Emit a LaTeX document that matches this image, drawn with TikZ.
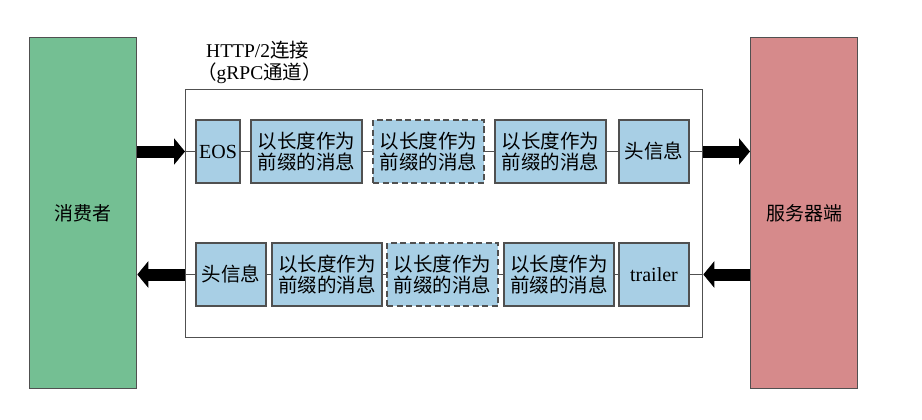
\documentclass[tikz,border=0pt]{standalone}
\usepackage{fontspec}
\setmainfont{Liberation Serif}
\newfontfamily\cjk{Noto Sans CJK SC}
\usetikzlibrary{arrows.meta}
\definecolor{cgreen}{HTML}{74BF93}
\definecolor{cred}{HTML}{D68A8B}
\definecolor{cblue}{HTML}{A8CFE5}
\definecolor{cborder}{HTML}{505050}
\begin{document}
\begin{tikzpicture}[x=1pt,y=-1pt,
  box/.style={draw=cborder, line width=1.3pt, fill=cblue, minimum height=63pt,
    inner sep=0pt, font=\fontsize{19.5}{21}\selectfont\cjk, align=center},
  dbox/.style={box, dash pattern=on 6pt off 3.5pt},
  latin/.style={font=\fontsize{20}{21}\selectfont},
  side/.style={draw=cborder, line width=1.3pt, minimum width=107pt, minimum height=351pt,
    inner sep=0pt, anchor=north west, font=\fontsize{19}{21}\selectfont\cjk},
  fat/.style={line width=12pt, -{Triangle[length=11pt,width=26pt]}, black},
  thin/.style={draw=cborder, line width=1.3pt}]
\useasboundingbox (0,0) rectangle (922,420);
\fill[white] (0,0) rectangle (922,420);
% side blocks
\node[side, fill=cgreen] (cons) at (29,37) {消费者};
\node[side, fill=cred] (serv) at (750,37) {服务器端};
% channel
\node[draw=cborder, line width=1.3pt, minimum width=517pt, minimum height=248pt,
  inner sep=0pt, anchor=north west] (chan) at (185,89) {};
\node[anchor=west, inner sep=0pt, font=\fontsize{19.5}{21}\selectfont] (t1) at (206,50) {HTTP/2{\cjk 连接}};
\node[anchor=west, inner sep=0pt, font=\fontsize{19.5}{21}\selectfont\cjk] (t2) at (197,73) {（{\rmfamily gRPC}通道）};
% top row
\node[box, latin, minimum width=44pt] (a1) at (218,151.5) {EOS};
\node[box, minimum width=111pt] (a2) at (306.5,151.5) {以长度作为\\前缀的消息};
\node[dbox, minimum width=111pt] (a3) at (428.5,151.5) {以长度作为\\前缀的消息};
\node[box, minimum width=111pt] (a4) at (550.5,151.5) {以长度作为\\前缀的消息};
\node[box, minimum width=70pt] (a5) at (654,151.5) {头信息};
% bottom row
\node[box, minimum width=70pt] (b1) at (231,274.5) {头信息};
\node[box, minimum width=110pt] (b2) at (327,274.5) {以长度作为\\前缀的消息};
\node[dbox, minimum width=111pt] (b3) at (442.5,274.5) {以长度作为\\前缀的消息};
\node[box, minimum width=110pt] (b4) at (559,274.5) {以长度作为\\前缀的消息};
\node[box, latin, minimum width=70pt] (b5) at (654,274.5) {trailer};
% thin links
\draw[thin] (chan.west |- a1) -- (a1.west);
\draw[thin] (a1) -- (a2);
\draw[thin] (a2) -- (a3);
\draw[thin] (a3) -- (a4);
\draw[thin] (a4) -- (a5);
\draw[thin] (a5.east) -- (chan.east |- a5);
\draw[thin] (chan.west |- b1) -- (b1.west);
\draw[thin] (b1) -- (b2);
\draw[thin] (b2) -- (b3);
\draw[thin] (b3) -- (b4);
\draw[thin] (b4) -- (b5);
\draw[thin] (b5.east) -- (chan.east |- b5);
% fat arrows
\draw[fat] (cons.east |- a1) -- (chan.west |- a1);
\draw[fat] (chan.east |- a5) -- (serv.west |- a5);
\draw[fat] (chan.west |- b1) -- (cons.east |- b1);
\draw[fat] (serv.west |- b5) -- (chan.east |- b5);
\end{tikzpicture}
\end{document}
